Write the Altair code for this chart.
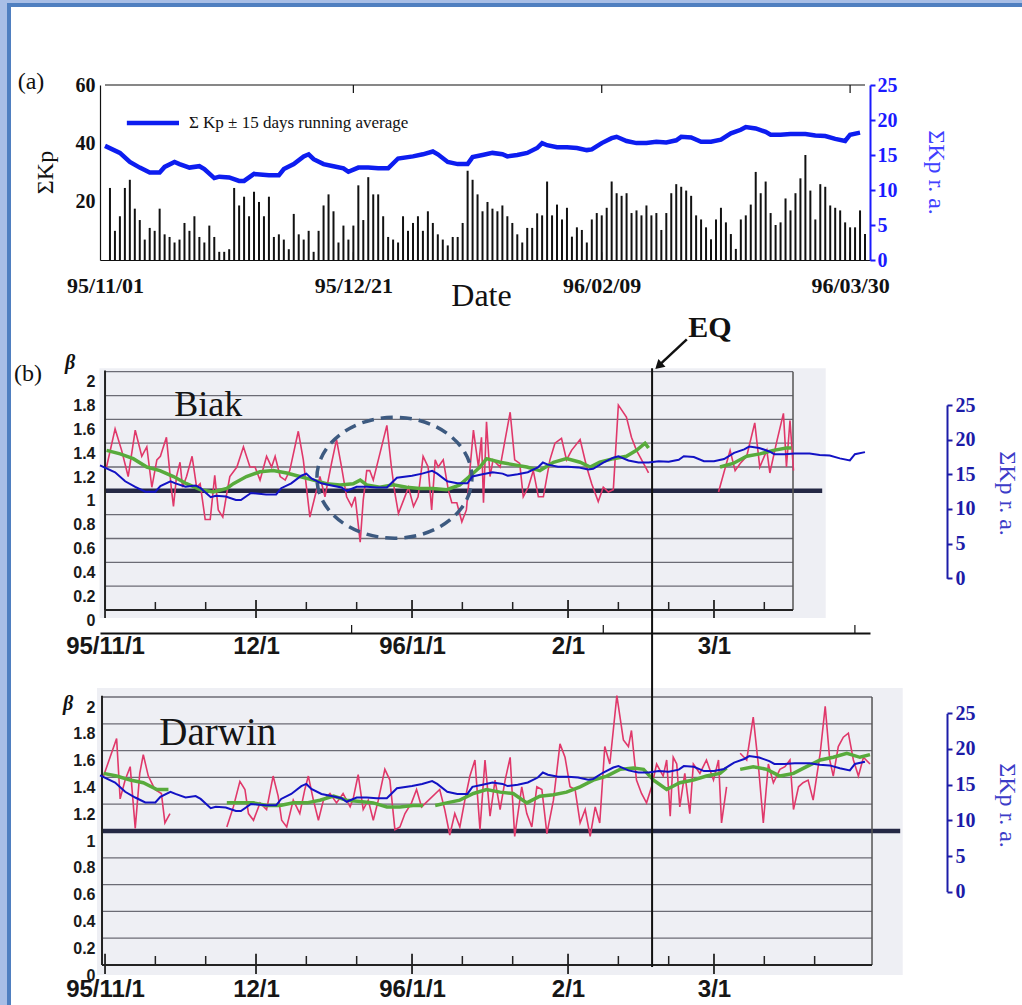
import altair as alt
import pandas as pd

# ------------------------------------------------------------------
# Data.  Day numbers are counted from 1995-11-01 (= day 0).
# ------------------------------------------------------------------

# daily sum of Kp, days 1 .. 153
KP_SUM = [
    24.7, 10, 15, 24.7, 27.5, 17.6, 13.7, 7, 11, 10,
    17.6, 8.8, 7.9, 6, 7, 12.7, 10, 15, 7.9, 6,
    11.8, 7.9, 2.8, 2.8, 3.7, 24.7, 18.7, 21.7, 15, 23.4,
    19.9, 15, 21.7, 7.9, 8.8, 7, 3.7, 15.8, 8.8, 7,
    10, 2.8, 10, 18.7, 22.5, 16.7, 6, 11.8, 7, 11.8,
    25.6, 13.7, 28.4, 22.5, 22.5, 15, 7.9, 7, 6, 15,
    10, 12.7, 15, 10, 16.7, 12.7, 8.8, 7, 5, 7.9,
    7.9, 12.7, 30.6, 27.5, 22.5, 16.7, 19.9, 17.6, 16.7, 18.7,
    15, 12.7, 8.8, 6, 11, 11, 16, 15.3, 26.9, 15.3,
    19, 13.9, 17.9, 8, 11.2, 10.3, 6, 13.9, 16.1, 15.3,
    17.9, 26.9, 22.9, 22, 22.9, 16.1, 17, 15.3, 18.7, 15.3,
    16.1, 10.3, 16.1, 22.9, 26, 25.1, 23.8, 22, 15.3, 13.9,
    11.2, 7.1, 13.9, 17.9, 12.9, 8.9, 3.8, 13.9, 15.3, 19,
    30.2, 22.9, 26.9, 16.1, 12, 12.9, 21.1, 17, 22.9, 28,
    36, 23.8, 13.9, 26, 25.1, 18.7, 17.9, 17, 12.9, 11.2,
    11.2, 17, 8.9,
]

# ΣKp +-15 days running average
RA_DAY = [0, 3, 5, 7, 9, 11, 12, 14, 15, 17, 19, 20, 22, 23, 25, 27, 28, 30, 33, 35,
          36, 38, 40, 41, 42, 44, 46, 48, 49, 51, 53, 55, 57, 59, 62, 64, 66, 67, 69, 71,
          73, 74, 76, 78, 80, 81, 83, 85, 87, 88, 89, 91, 93, 95, 97, 98, 100, 102, 103, 105,
          107, 109, 111, 113, 115, 116, 118, 120, 122, 124, 126, 128, 129, 131, 133, 134, 136, 138, 141, 143,
          145, 147, 149, 150, 152]
RA_VAL = [16.3, 15.3, 14.0, 13.2, 12.5, 12.5, 13.3, 14.0, 13.7, 13.2, 13.4, 13.0, 11.7, 11.9, 11.8, 11.3, 11.3, 12.3, 12.1, 12.1,
          13.0, 13.7, 14.8, 15.1, 14.4, 13.7, 13.4, 13.1, 12.6, 13.2, 13.2, 13.1, 13.1, 14.5, 14.8, 15.1, 15.5, 15.1, 14.0, 13.7,
          13.7, 14.7, 15.0, 15.3, 15.1, 14.8, 15.0, 15.3, 16.0, 16.7, 16.4, 16.1, 16.1, 16.0, 15.7, 15.8, 16.7, 17.4, 17.6, 17.0,
          16.7, 16.7, 16.9, 16.8, 17.1, 17.6, 17.5, 16.9, 16.9, 17.2, 18.1, 18.6, 19.0, 18.8, 18.3, 17.9, 17.9, 18.0, 18.0, 17.8,
          17.7, 17.3, 17.0, 17.9, 18.2]

A_TICK_DAYS = [0, 50, 100, 150]
A_TICK_LABELS = ["95/11/01", "95/12/21", "96/02/09", "96/03/30"]
KP_TICKS = [20, 40, 60]
RA_TICKS = [0, 5, 10, 15, 20, 25]

MONTH_DAYS = [1, 31, 62, 93, 122]
MONTH_LABELS = ["95/11/1", "12/1", "96/1/1", "2/1", "3/1"]
TEN_DAY_TICKS = [11, 21, 41, 51, 72, 82, 103, 113, 132, 142]
BETA_TICKS = [0, 0.2, 0.4, 0.6, 0.8, 1, 1.2, 1.4, 1.6, 1.8, 2]

EQ_DAY = 109.7  # Biak earthquake, 1996-02-17

# beta: daily values and running average, split where the record has gaps
BIAK_RED = [
    [(1.3, 1.20), (3.0, 1.52), (4.3, 1.34), (5.6, 1.12), (7.0, 1.51), (8.3, 1.29), (9.3, 1.37), (10.3, 1.03),
     (11.3, 1.26), (12.0, 1.29), (13.2, 1.45), (14.2, 1.01), (14.6, 0.87), (15.2, 1.12), (15.9, 1.24), (16.4, 1.03),
     (17.2, 1.12), (18.3, 1.29), (19.2, 1.03), (19.9, 1.06), (20.9, 0.76), (21.9, 0.76), (22.8, 1.13), (23.5, 0.84),
     (24.4, 0.78), (25.2, 0.98), (25.8, 1.12), (27.2, 1.20), (28.5, 1.37), (29.8, 1.20), (30.8, 1.20), (31.8, 1.09),
     (33.1, 1.29), (34.1, 1.20), (34.8, 1.29), (35.8, 1.12), (36.8, 1.09), (37.7, 1.17), (39.4, 1.50), (40.4, 1.26),
     (41.7, 0.78), (42.7, 0.95), (43.7, 1.12), (44.7, 0.95), (46.0, 1.23), (47.0, 1.43), (48.0, 1.20), (49.0, 0.95),
     (50.0, 0.87), (50.7, 0.95), (51.7, 0.57), (52.3, 0.92), (53.0, 1.17), (53.6, 1.17), (54.3, 1.09), (55.6, 1.31),
     (57.0, 1.55), (57.9, 1.20), (58.6, 0.98), (59.3, 0.81), (60.3, 0.92), (61.3, 1.03), (62.3, 0.87), (63.2, 0.95),
     (64.2, 1.29), (65.2, 1.20), (65.9, 0.84), (66.6, 1.26), (67.2, 1.20), (68.2, 1.26), (69.2, 1.01), (69.9, 0.90),
     (70.9, 0.90), (71.9, 0.74), (72.8, 0.84), (74.2, 1.51), (75.2, 1.20), (75.8, 1.45), (76.2, 0.90), (76.8, 1.58),
     (77.5, 1.12), (78.1, 1.26), (79.5, 1.20), (80.5, 1.43), (81.5, 1.66), (82.4, 1.26), (83.4, 1.23), (84.1, 0.95),
     (85.1, 1.03), (86.1, 1.17), (87.1, 0.95), (88.1, 0.95), (89.4, 1.26), (90.4, 1.40), (91.7, 1.44), (92.7, 1.26),
     (93.7, 1.34), (95.4, 1.43), (96.7, 1.20), (97.7, 1.06), (99.0, 0.91), (100.0, 1.03), (101.0, 0.99), (102.0, 1.01),
     (103.0, 1.72), (104.6, 1.62), (105.6, 1.45), (106.6, 1.34), (108.0, 1.23), (109.0, 1.15)],
    [(122.9, 0.99), (125.2, 1.34), (126.2, 1.17), (127.2, 1.23), (128.5, 1.29), (130.1, 1.57), (131.1, 1.20),
     (132.5, 1.34), (133.1, 1.15), (134.4, 1.40), (135.8, 1.65), (136.4, 1.20), (137.1, 1.59), (137.8, 1.17)],
]
BIAK_GREEN = [
    [(1.3, 1.34), (4.0, 1.31), (6.6, 1.27), (9.3, 1.20), (11.9, 1.17), (14.6, 1.12), (17.2, 1.06), (19.9, 1.01),
     (22.5, 0.99), (25.2, 1.02), (26.5, 1.06), (29.1, 1.12), (31.8, 1.16), (34.4, 1.17), (37.1, 1.15), (39.7, 1.12),
     (42.4, 1.09), (45.0, 1.06), (47.7, 1.05), (50.3, 1.06), (51.7, 1.09), (53.0, 1.05), (55.6, 1.03), (58.3, 1.05),
     (60.9, 1.03), (63.6, 1.02), (66.2, 1.02), (68.9, 1.01), (71.5, 1.05), (74.2, 1.15), (75.5, 1.20), (76.8, 1.27),
     (79.5, 1.24), (82.1, 1.22), (84.8, 1.20), (87.4, 1.17), (90.1, 1.24), (92.7, 1.27), (95.4, 1.24), (97.4, 1.20),
     (99.3, 1.24), (102.0, 1.27), (104.6, 1.29), (106.6, 1.34), (108.3, 1.40), (109.0, 1.36)],
    [(123.2, 1.20), (125.8, 1.23), (128.5, 1.29), (131.1, 1.31), (133.8, 1.34), (136.4, 1.36), (137.4, 1.36)],
]
DARWIN_RED = [
    [(0.7, 1.41), (2.0, 1.55), (3.3, 1.69), (4.0, 1.24), (5.0, 1.38), (6.0, 1.48), (7.0, 1.02), (7.9, 1.43),
     (8.6, 1.57), (9.6, 1.41), (10.9, 1.31), (12.2, 1.28), (12.9, 1.06), (13.9, 1.13)],
    [(25.2, 1.03), (26.5, 1.18), (27.8, 1.37), (28.8, 1.31), (29.5, 1.13), (30.5, 1.08), (31.8, 1.21), (33.1, 1.16),
     (34.4, 1.41), (35.4, 1.26), (36.1, 1.08), (37.1, 1.03), (38.4, 1.23), (39.7, 1.13), (40.7, 1.31), (41.4, 1.41),
     (42.4, 1.23), (43.4, 1.08), (44.4, 1.23), (45.7, 1.28), (47.0, 1.21), (48.3, 1.28), (49.7, 1.18), (50.3, 1.24),
     (51.3, 1.42), (52.3, 1.16), (53.3, 1.23), (54.3, 1.08), (55.3, 1.23), (56.6, 1.46), (57.6, 1.38), (58.6, 1.01),
     (59.6, 1.03), (60.6, 1.13), (61.9, 1.21), (62.9, 1.31), (63.9, 1.18), (67.5, 1.31), (68.5, 1.16), (69.5, 0.97),
     (70.5, 1.13), (71.5, 1.03), (72.5, 1.23), (73.5, 1.41), (74.5, 1.53), (75.5, 1.01), (76.5, 1.53), (77.5, 1.11),
     (78.5, 1.38), (79.5, 1.16), (80.5, 1.38), (81.5, 1.55), (82.4, 0.96), (83.8, 1.33), (84.8, 1.13), (85.8, 1.03),
     (86.8, 1.33), (87.8, 1.31), (88.8, 0.98), (90.1, 1.23), (91.4, 1.65), (92.4, 1.55), (93.4, 1.33), (94.4, 1.31),
     (95.4, 1.06), (96.4, 1.16), (97.4, 0.96), (98.4, 1.18), (99.3, 1.06), (100.3, 1.63), (101.3, 1.50), (102.7, 2.01),
     (104.0, 1.68), (105.0, 1.63), (105.6, 1.75), (106.6, 1.38), (107.6, 1.28), (108.6, 1.21), (109.6, 1.33),
     (110.6, 1.50), (111.9, 1.41), (112.6, 1.53), (113.3, 1.11), (113.9, 1.55), (114.6, 1.50), (115.2, 1.18),
     (116.2, 1.43), (117.2, 1.13), (117.9, 1.50), (119.2, 1.43), (120.5, 1.53), (121.9, 1.38), (122.9, 1.53),
     (123.5, 1.06), (124.5, 1.33)],
    [(127.2, 1.58), (128.5, 1.53), (129.8, 1.85), (130.8, 1.50), (131.8, 1.06), (132.8, 1.50), (133.8, 1.36),
     (135.1, 1.46), (136.1, 1.48), (137.1, 1.53), (137.8, 1.16), (138.8, 1.33), (139.7, 1.36), (140.7, 1.38),
     (141.7, 1.23), (143.1, 1.58), (144.1, 1.93), (145.0, 1.53), (145.7, 1.41), (146.7, 1.63), (147.7, 1.70),
     (148.7, 1.73), (149.7, 1.53), (150.7, 1.41), (151.7, 1.55), (153.0, 1.50)],
]
DARWIN_GREEN = [
    [(0.7, 1.43), (3.3, 1.41), (6.0, 1.38), (8.6, 1.36), (11.3, 1.31), (13.6, 1.31)],
    [(25.2, 1.21), (27.8, 1.21), (30.5, 1.21), (33.1, 1.19), (35.8, 1.19), (38.4, 1.21), (41.1, 1.21), (43.7, 1.23),
     (46.4, 1.26), (49.0, 1.23), (51.7, 1.22), (54.3, 1.21), (57.0, 1.18), (59.6, 1.18), (62.2, 1.19), (64.2, 1.19)],
    [(66.6, 1.19), (68.9, 1.21), (71.5, 1.23), (74.2, 1.28), (76.8, 1.31), (79.5, 1.29), (82.1, 1.28), (84.8, 1.21),
     (87.4, 1.26), (90.1, 1.27), (92.7, 1.29), (95.4, 1.33), (98.0, 1.38), (100.7, 1.41), (103.3, 1.46),
     (106.0, 1.47), (108.0, 1.46), (110.0, 1.38), (112.6, 1.31), (115.2, 1.36), (117.9, 1.38), (120.5, 1.41),
     (123.2, 1.43), (124.5, 1.47)],
    [(127.2, 1.46), (129.8, 1.48), (132.5, 1.46), (135.1, 1.41), (137.8, 1.43), (140.4, 1.48), (143.1, 1.53),
     (145.7, 1.55), (148.4, 1.58), (151.0, 1.55), (153.0, 1.57)],
]

# ------------------------------------------------------------------
# Styling
# ------------------------------------------------------------------
SERIF = "Liberation Serif"
SANS = "Liberation Sans"
DAYS_TOTAL = 153

BAR = "#111111"
RA_BLUE_A = "#0d1df0"
AXIS_BLUE_A = "#1a1aff"
TITLE_BLUE_A = "#4040ff"
NAVY = "#1c1ca8"
KP_BLUE = "#1212c4"
RED = "#e0386a"
GREEN = "#58ab3c"
SCAN_BG = "#eeeff4"
GRID = "#6b6b74"
THICK = "#242844"
DASH = "#3d5a80"
FRAME_LIGHT = "#a8bee6"
FRAME_DARK = "#4f7fc0"

W = 770
HA, HB, HC = 175, 373, 332

DUMMY = pd.DataFrame({"k": [0]})
ra_df = pd.DataFrame({"day": RA_DAY, "ra": RA_VAL})


def x_scale():
    return alt.Scale(domain=[0, DAYS_TOTAL], nice=False, zero=False)


def label_expr(values, labels):
    expr = "''"
    for v, t in reversed(list(zip(values, labels))):
        expr = f"datum.value == {v} ? '{t}' : {expr}"
    return expr


def seg_frame(segments):
    rows = [{"day": d, "v": v, "seg": i} for i, seg in enumerate(segments) for d, v in seg]
    return pd.DataFrame(rows)


# ------------------------------------------------------------------
# (a)  daily ΣKp with its running average
# ------------------------------------------------------------------
axA_x = alt.Axis(values=A_TICK_DAYS, labelExpr=label_expr(A_TICK_DAYS, A_TICK_LABELS),
                 title="Date", titleX=381, titleY=35, titleBaseline="middle",
                 titleFont=SERIF, titleFontSize=32, titleFontWeight="normal", titleColor="#111",
                 labelFont=SERIF, labelFontWeight="bold", labelFontSize=22, labelColor="#111",
                 labelPadding=15, labelFlush=False, labelOverlap=False,
                 ticks=False, domainColor="#111", domainWidth=1.2, grid=False)
axA_kp = alt.Axis(values=KP_TICKS, orient="left", title="ΣKp", titleX=-48, titleY=87, titleAngle=270,
                  titleBaseline="alphabetic", titleAlign="center",
                  titleFont=SERIF, titleFontSize=24, titleFontWeight="normal", titleColor="#111",
                  labelFont=SERIF, labelFontWeight="bold", labelFontSize=20, labelColor="#111",
                  labelPadding=5, ticks=False, domainColor="#111", domainWidth=1.2, grid=False)
axA_ra = alt.Axis(values=RA_TICKS, orient="right", title="ΣKp r. a.", titleX=58, titleY=87, titleAngle=90,
                  titleBaseline="alphabetic", titleAlign="center",
                  titleFont=SERIF, titleFontSize=24, titleFontWeight="normal", titleColor=TITLE_BLUE_A,
                  labelFont=SERIF, labelFontWeight="bold", labelFontSize=20, labelColor=AXIS_BLUE_A,
                  labelPadding=2, tickColor=AXIS_BLUE_A, tickSize=5, tickWidth=2,
                  domainColor=AXIS_BLUE_A, domainWidth=2, grid=False)
kp_scale = alt.Scale(domain=[0, 60], nice=False, zero=True)
ra_scale_a = alt.Scale(domain=[0, 25], nice=False, zero=True)


def XA(field):
    return alt.X(field, type="quantitative", scale=x_scale(), axis=axA_x)


def XAD(v):
    return alt.XDatum(v, type="quantitative", scale=x_scale(), axis=axA_x)


def KD(v):
    return alt.YDatum(v, type="quantitative", scale=kp_scale, axis=axA_kp)


bars = alt.Chart(pd.DataFrame({"day": range(1, len(KP_SUM) + 1), "kp": KP_SUM})).mark_bar(
    size=2, color=BAR).encode(
    x=XA("day"), y=alt.Y("kp", type="quantitative", scale=kp_scale, axis=axA_kp))

tick_df = pd.DataFrame({"day": A_TICK_DAYS[1:]})
ticks_bottom = alt.Chart(tick_df).mark_rule(color="#111", strokeWidth=1.2).encode(
    x=XA("day"), y=KD(0), y2=alt.datum(2.7))
ticks_top = alt.Chart(tick_df).mark_rule(color="#111", strokeWidth=1.2).encode(
    x=XA("day"), y=KD(60), y2=alt.datum(57.3))
top_border = alt.Chart(DUMMY).mark_rule(color="#111", strokeWidth=1.2).encode(
    x=XAD(0), x2=alt.datum(DAYS_TOTAL), y=KD(60))
legend_line = alt.Chart(DUMMY).mark_rule(color=RA_BLUE_A, strokeWidth=4.5).encode(
    x=XAD(4.4), x2=alt.datum(14.9), y=KD(47))
legend_text = alt.Chart(DUMMY).mark_text(align="left", baseline="middle", font=SERIF,
                                         fontSize=17, color="#111").encode(
    x=XAD(16.9), y=KD(47), text=alt.value("Σ Kp ± 15 days running average"))
tag_a = alt.Chart(DUMMY).mark_text(font=SERIF, fontSize=24, color="#111").encode(
    x=alt.value(-69), y=alt.value(-3), text=alt.value("(a)"))

# slide frame along the top and left edges
frame = [
    alt.Chart(DUMMY).mark_rect(color=FRAME_LIGHT).encode(
        x=alt.value(-100), x2=alt.value(922), y=alt.value(-85), y2=alt.value(-82)),
    alt.Chart(DUMMY).mark_rect(color=FRAME_LIGHT).encode(
        x=alt.value(-100), x2=alt.value(-93), y=alt.value(-85), y2=alt.value(920)),
    alt.Chart(DUMMY).mark_rect(color=FRAME_DARK).encode(
        x=alt.value(-93), x2=alt.value(922), y=alt.value(-82), y2=alt.value(-78)),
    alt.Chart(DUMMY).mark_rect(color=FRAME_DARK).encode(
        x=alt.value(-93), x2=alt.value(-89), y=alt.value(-82), y2=alt.value(920)),
]

ra_line_a = alt.Chart(ra_df).mark_line(color=RA_BLUE_A, strokeWidth=4.5).encode(
    x=XA("day"), y=alt.Y("ra", type="quantitative", scale=ra_scale_a, axis=axA_ra))

panel_a = alt.layer(
    alt.layer(bars, ticks_bottom, ticks_top, top_border, legend_line, legend_text, tag_a, *frame),
    ra_line_a,
).resolve_scale(y="independent").properties(width=W, height=HA)


# ------------------------------------------------------------------
# (b)  beta at the two stations, with ΣKp running average
# ------------------------------------------------------------------
def beta_panel(*, red, green, height, beta_rng, ra_rng, left_day, right_day, thick_day, bg,
               name, name_at, name_size, month_pad, month_domain, ra_title_y, extra):
    xsc = x_scale()
    bsc = alt.Scale(domain=[0, 2], range=beta_rng, nice=False, zero=False)
    rsc = alt.Scale(domain=[0, 25], range=ra_rng, nice=False, zero=False)
    ax_x = alt.Axis(values=MONTH_DAYS, labelExpr=label_expr(MONTH_DAYS, MONTH_LABELS), title=None,
                    ticks=False, domain=month_domain, domainColor="#111", domainWidth=1.8,
                    labelFont=SANS, labelFontWeight="bold", labelFontSize=24, labelColor="#161616",
                    labelPadding=month_pad, labelFlush=False, labelOverlap=False, grid=False)
    ax_b = alt.Axis(values=BETA_TICKS, format=".1~f", orient="left", title=None, ticks=False,
                    domain=False, grid=False, labelFont=SANS, labelFontWeight="bold", labelFontSize=16,
                    labelColor="#1a1a1a", labelPadding=5, labelOffset=10, labelOverlap=False)
    ax_r = alt.Axis(values=RA_TICKS, orient="right", offset=77, title="ΣKp r. a.", titleAngle=90,
                    titleX=52, titleY=ra_title_y, titleBaseline="alphabetic", titleAlign="center",
                    titleFont=SERIF, titleFontSize=24, titleFontWeight="normal", titleColor="#3c3cc8",
                    labelFont=SERIF, labelFontWeight="bold", labelFontSize=20, labelColor=NAVY,
                    labelPadding=3, tickColor=NAVY, tickSize=5, tickWidth=2,
                    domainColor=NAVY, domainWidth=2, grid=False, labelOverlap=False)

    def X(field):
        return alt.X(field, type="quantitative", scale=xsc, axis=ax_x)

    def XD(v):
        return alt.XDatum(v, type="quantitative", scale=xsc, axis=ax_x)

    def B(field):
        return alt.Y(field, type="quantitative", scale=bsc, axis=ax_b)

    def BD(v):
        return alt.YDatum(v, type="quantitative", scale=bsc, axis=ax_b)

    layers = [
        alt.Chart(DUMMY).mark_rect(color=SCAN_BG).encode(
            x=XD(bg[0]), x2=alt.datum(bg[1]), y=BD(bg[2]), y2=alt.datum(bg[3])),
        alt.Chart(pd.DataFrame({"b": BETA_TICKS[1:]})).mark_rule(color=GRID, strokeWidth=1.3).encode(
            x=XD(left_day), x2=alt.datum(right_day), y=B("b")),
        alt.Chart(DUMMY).mark_rule(color=THICK, strokeWidth=4.5).encode(
            x=XD(left_day), x2=alt.datum(thick_day), y=BD(1)),
        alt.Chart(DUMMY).mark_rule(color="#222", strokeWidth=2).encode(
            x=XD(left_day), y=BD(0), y2=alt.datum(2.01)),
        alt.Chart(DUMMY).mark_rule(color="#555", strokeWidth=1.5).encode(
            x=XD(right_day), y=BD(0), y2=alt.datum(2.0)),
        alt.Chart(DUMMY).mark_rule(color="#222", strokeWidth=2).encode(
            x=XD(left_day), x2=alt.datum(right_day), y=BD(0)),
        alt.Chart(pd.DataFrame({"day": [d for d in TEN_DAY_TICKS if d < right_day]})).mark_rule(
            color="#222", strokeWidth=1.5).encode(x=X("day"), y=BD(0), y2=alt.datum(0.067)),
        alt.Chart(pd.DataFrame({"day": MONTH_DAYS})).mark_rule(color="#222", strokeWidth=1.8).encode(
            x=X("day"), y=BD(-0.067), y2=alt.datum(0.084)),
        alt.Chart(seg_frame(red)).mark_line(color=RED, strokeWidth=1.6).encode(
            x=X("day"), y=B("v"), detail="seg:N"),
        alt.Chart(seg_frame(green)).mark_line(color=GREEN, strokeWidth=3.5).encode(
            x=X("day"), y=B("v"), detail="seg:N"),
        alt.Chart(DUMMY).mark_text(font=SERIF, fontSize=name_size, color="#151515").encode(
            x=XD(name_at[0]), y=BD(name_at[1]), text=alt.value(name)),
    ]
    layers += extra(X, XD, B, BD)

    ra_line = alt.Chart(ra_df).mark_line(color=KP_BLUE, strokeWidth=2).encode(
        x=X("day"), y=alt.Y("ra", type="quantitative", scale=rsc, axis=ax_r))

    return alt.layer(alt.layer(*layers), ra_line).resolve_scale(y="independent").properties(
        width=W, height=height)


ELLIPSE = "M -1 0 A 1 0.78 0 1 1 1 0 A 1 0.78 0 1 1 -1 0 Z"


def biak_extra(X, XD, B, BD):
    return [
        alt.Chart(DUMMY).mark_point(shape=ELLIPSE, size=24025, filled=False, color=DASH, opacity=1,
                                    strokeWidth=3.5, strokeDash=[12, 7]).encode(x=XD(58.5), y=BD(1.11)),
        alt.Chart(DUMMY).mark_rule(color="#111", strokeWidth=2).encode(
            x=XD(EQ_DAY), y=BD(2.03), y2=alt.value(HB)),
        alt.Chart(DUMMY).mark_rule(color="#111", strokeWidth=2.5).encode(
            x=XD(116.6), x2=alt.datum(111.5), y=BD(2.271), y2=alt.datum(2.07)),
        alt.Chart(DUMMY).mark_point(shape="triangle-up", filled=True, size=110, angle=227,
                                    color="#111", opacity=1).encode(x=XD(111.0), y=BD(2.048)),
        alt.Chart(DUMMY).mark_text(font=SERIF, fontWeight="bold", fontSize=30, color="#111").encode(
            x=XD(121.2), y=BD(2.366), text=alt.value("EQ")),
        alt.Chart(pd.DataFrame({"day": A_TICK_DAYS[1:]})).mark_rule(color="#111", strokeWidth=1.2).encode(
            x=X("day"), y=alt.value(HB), y2=alt.value(HB - 8)),
        alt.Chart(DUMMY).mark_text(font=SERIF, fontSize=24, color="#111").encode(
            x=alt.value(-72), y=alt.value(114), text=alt.value("(b)")),
        alt.Chart(DUMMY).mark_text(font=SERIF, fontSize=20, fontWeight="bold", fontStyle="italic",
                                   color="#111").encode(x=alt.value(-30), y=alt.value(103), text=alt.value("β")),
    ]


def darwin_extra(X, XD, B, BD):
    return [
        alt.Chart(DUMMY).mark_rule(color="#111", strokeWidth=2).encode(
            x=XD(EQ_DAY), y=BD(2.48), y2=alt.datum(-0.015)),
        alt.Chart(DUMMY).mark_text(font=SERIF, fontSize=20, fontWeight="bold", fontStyle="italic",
                                   color="#111").encode(x=alt.value(-32), y=alt.value(71), text=alt.value("β")),
    ]


panel_b = beta_panel(
    red=BIAK_RED, green=BIAK_GREEN, height=HB,
    beta_rng=[350, 111.7], ra_rng=[318.3, 145],
    left_day=1.0, right_day=137.7, thick_day=143.5, bg=(-0.1, 144.2, -0.067, 2.03),
    name="Biak", name_at=(21.5, 1.72), name_size=36, month_pad=1, month_domain=True, ra_title_y=233,
    extra=biak_extra,
)
panel_c = beta_panel(
    red=DARWIN_RED, green=DARWIN_GREEN, height=HC,
    beta_rng=[332, 64], ra_rng=[258.7, 80.3],
    left_day=0.4, right_day=153.4, thick_day=159.0, bg=(-0.6, 159.5, -0.075, 2.067),
    name="Darwin", name_at=(23.4, 1.73), name_size=39, month_pad=12, month_domain=False, ra_title_y=172,
    extra=darwin_extra,
)

chart = alt.vconcat(panel_a, panel_b, panel_c, spacing=0, bounds="flush").properties(
    padding=0, background="white"
).configure_view(stroke=None)

chart.save("out.html", embed_options={"renderer": "svg", "actions": False})
